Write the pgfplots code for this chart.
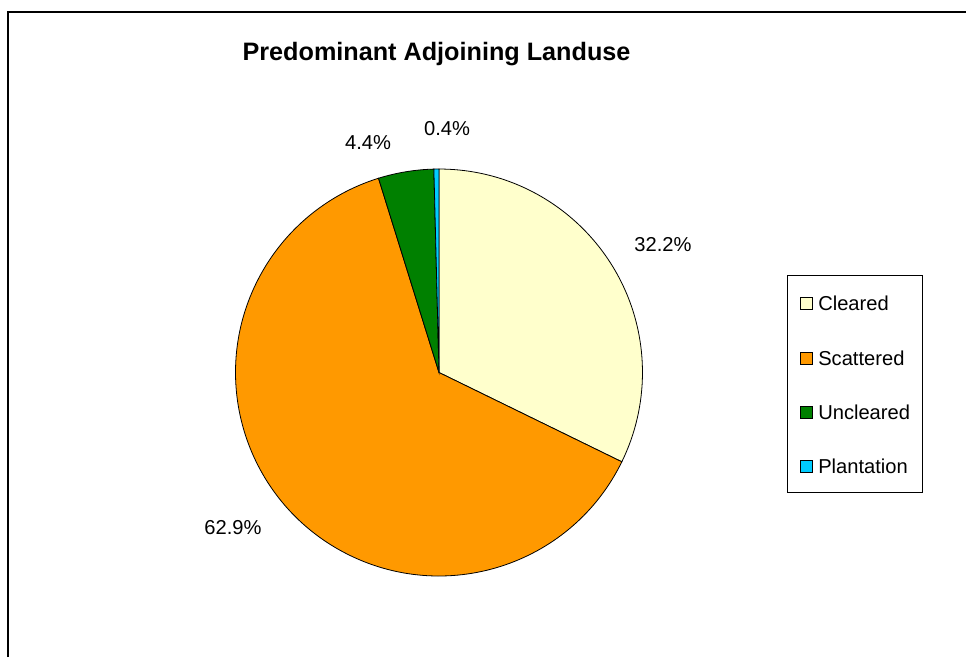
\documentclass[border=0pt]{standalone}
\usepackage{pgfplots}
\usepackage{pgfplotstable}
\pgfplotsset{compat=1.18}
\usepackage{fontspec}
\setmainfont{Liberation Sans}

\definecolor{cCleared}{HTML}{FFFFCC}
\definecolor{cScattered}{HTML}{FF9900}
\definecolor{cUncleared}{HTML}{008000}
\definecolor{cPlantation}{HTML}{00CCFF}

\pgfplotstableread{
name value
Cleared 32.2
Scattered 62.9
Uncleared 4.4
Plantation 0.4
}\piedata

\pgfplotstablegetelem{0}{value}\of\piedata \let\vA\pgfplotsretval
\pgfplotstablegetelem{1}{value}\of\piedata \let\vB\pgfplotsretval
\pgfplotstablegetelem{2}{value}\of\piedata \let\vC\pgfplotsretval
\pgfplotstablegetelem{3}{value}\of\piedata \let\vD\pgfplotsretval
\pgfmathsetmacro\total{\vA+\vB+\vC+\vD}
\pgfmathsetmacro\aA{90}
\pgfmathsetmacro\aB{\aA-360*(\vA/\total)}
\pgfmathsetmacro\aC{\aB-360*(\vB/\total)}
\pgfmathsetmacro\aD{\aC-360*(\vC/\total)}
\pgfmathsetmacro\aE{\aD-360*(\vD/\total)}
\def\R{152.6pt}

\begin{document}%
\begin{tikzpicture}
\begin{axis}[
  x=0.75pt, y=0.75pt,
  xmin=0, xmax=966, ymin=0, ymax=657,
  hide axis, clip=false, xtick=\empty, ytick=\empty,
]
\coordinate (ll) at (axis cs:0,0);
\coordinate (ur) at (axis cs:966,657);
% outer frame (cut at right and bottom)
\draw[black, line width=1.5pt] (axis cs:8,0) -- (axis cs:8,644.5) -- (axis cs:966,644.5);
% title
\node[font=\fontsize{18.9}{22}\selectfont\bfseries] at (axis cs:436.5,602.5) {Predominant Adjoining Landuse};
% pie slices
\filldraw[fill=cCleared, draw=black, line width=0.6pt] (axis cs:439,284.5) -- ++(\aA:\R) arc[start angle=\aA, end angle=\aB, radius=\R] -- cycle;
\filldraw[fill=cScattered, draw=black, line width=0.6pt] (axis cs:439,284.5) -- ++(\aB:\R) arc[start angle=\aB, end angle=\aC, radius=\R] -- cycle;
\filldraw[fill=cUncleared, draw=black, line width=0.6pt] (axis cs:439,284.5) -- ++(\aC:\R) arc[start angle=\aC, end angle=\aD, radius=\R] -- cycle;
\filldraw[fill=cPlantation, draw=black, line width=0.6pt] (axis cs:439,284.5) -- ++(\aD:\R) arc[start angle=\aD, end angle=\aE, radius=\R] -- cycle;
% data labels
\begin{scope}[every node/.style={font=\fontsize{15.1}{18}\selectfont, inner sep=0pt}]
\node at (axis cs:663,412) {32.2\%};
\node at (axis cs:233,129) {62.9\%};
\node at (axis cs:368,514) {4.4\%};
\node at (axis cs:447,528) {0.4\%};
% legend
\draw[black, line width=0.6pt] (axis cs:787,382) rectangle (axis cs:922,165);
\filldraw[fill=cCleared, draw=black, line width=0.5pt] (axis cs:800,360) rectangle (axis cs:812.5,348);
\filldraw[fill=cScattered, draw=black, line width=0.5pt] (axis cs:800,305) rectangle (axis cs:812.5,293);
\filldraw[fill=cUncleared, draw=black, line width=0.5pt] (axis cs:800,251) rectangle (axis cs:812.5,239);
\filldraw[fill=cPlantation, draw=black, line width=0.5pt] (axis cs:800,197) rectangle (axis cs:812.5,185);
\node[anchor=west] at (axis cs:818,354) {Cleared};
\node[anchor=west] at (axis cs:818,299) {Scattered};
\node[anchor=west] at (axis cs:818,245) {Uncleared};
\node[anchor=west] at (axis cs:818,191) {Plantation};
\end{scope}
\end{axis}
\pgfresetboundingbox
\useasboundingbox (ll) rectangle (ur);
\end{tikzpicture}%
\end{document}
